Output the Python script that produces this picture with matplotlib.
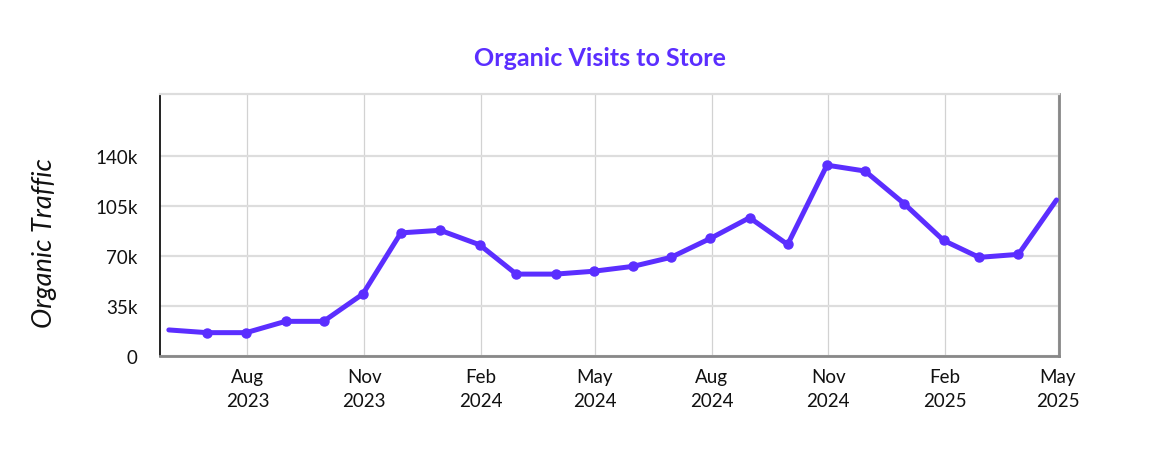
import matplotlib
matplotlib.use("Agg")
import matplotlib.pyplot as plt
import matplotlib.dates as mdates
import matplotlib.ticker as mticker
import pandas as pd

# monthly organic visits (month-end)
months = pd.date_range("2023-05-31", "2025-04-30", freq="ME")
visits = [18200, 16300, 16300, 24200, 24200, 43300, 86000, 87800, 77700,
          57200, 57200, 59200, 62600, 68900, 82100, 96600, 77900, 133300,
          129200, 106300, 80700, 68900, 71000, 109000]

y_ticks = [0, 35000, 70000, 105000, 140000]
y_tick_labels = ["0", "35k", "70k", "105k", "140k"]

purple = "#5B2EFF"

plt.rcParams["font.family"] = ["Lato", "DejaVu Sans"]

fig = plt.figure(figsize=(11.55, 4.77), dpi=100)
ax = fig.add_axes([0.1385, 0.2516, 0.7784, 0.5492])

ax.plot(months, visits, color=purple, linewidth=3.6, solid_capstyle="round",
        solid_joinstyle="round", zorder=3)
ax.plot(months[1:-1], visits[1:-1], linestyle="none", marker="o", markersize=6.5,
        color=purple, zorder=4)

ax.set_xlim(pd.Timestamp("2023-05-24"), pd.Timestamp("2025-05-02"))
ax.set_ylim(0, 183000)

ax.xaxis.set_major_locator(mdates.MonthLocator(bymonth=[2, 5, 8, 11]))
ax.xaxis.set_major_formatter(mdates.DateFormatter("%b\n%Y"))
ax.set_yticks(y_ticks)
ax.yaxis.set_major_formatter(mticker.FixedFormatter(y_tick_labels))

ax.tick_params(axis="both", length=0, labelsize=13.5, colors="#111111")
ax.tick_params(axis="x", pad=9)
ax.tick_params(axis="y", pad=16)
for lbl in ax.get_xticklabels():
    lbl.set_linespacing(1.45)

ax.grid(axis="y", color="#dddddd", linewidth=1.6, zorder=0)
ax.grid(axis="x", color="#d2d2d2", linewidth=0.9, zorder=0)

ax.spines["left"].set_color("#111111")
ax.spines["left"].set_linewidth(1.3)
ax.spines["bottom"].set_color("#888888")
ax.spines["bottom"].set_linewidth(2)
ax.spines["right"].set_color("#888888")
ax.spines["right"].set_linewidth(2)
ax.spines["top"].set_color("#dddddd")
ax.spines["top"].set_linewidth(1.6)

fig.text(45 / 1155, 1 - 243 / 477, "Organic Traffic", rotation=90, ha="center",
         va="center", fontsize=19.5, style="italic", color="#111111")
fig.text(0.519, 0.878, "Organic Visits to Store", ha="center", va="center",
         fontsize=18, fontweight="bold", color=purple)

fig.savefig("out.png", dpi=100)
